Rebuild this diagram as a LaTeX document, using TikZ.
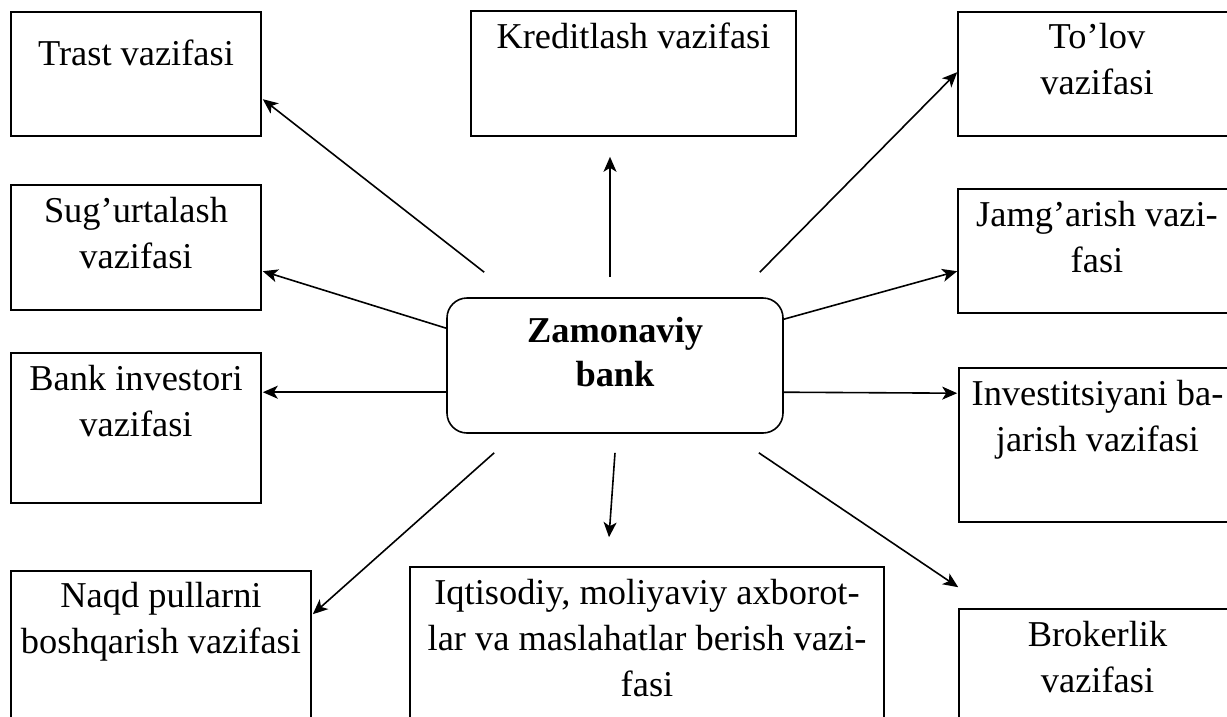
\documentclass[tikz,border=0pt]{standalone}
\usepackage{fontspec}
\setmainfont{Liberation Serif}
\usetikzlibrary{arrows.meta,calc}

\tikzset{
  box/.style={draw, line width=1.6pt, rectangle, inner sep=0pt},
  hub/.style={draw, line width=1.6pt, rectangle, rounded corners=20pt, inner sep=0pt,
    minimum width=336pt, minimum height=135pt},
  % the base anchor of a multi-line label sits on its last line
  label/.style={anchor=base, align=center, inner sep=0pt,
    font=\fontsize{36.4pt}{46pt}\selectfont},
  hublabel/.style={anchor=base, align=center, inner sep=0pt,
    font=\fontsize{36.4pt}{44pt}\selectfont\bfseries},
  link/.style={line width=1.6pt, -{Stealth[length=15pt,width=13pt,inset=4pt]}}
}

\begin{document}
\begin{tikzpicture}[x=1pt,y=-1pt]
  \clip (0,0) rectangle (1227,716);
  \fill[white] (0,0) rectangle (1227,716);

  % central node
  \node[hub] (zb) at (615,365.5) {};
  \node[hublabel] (zbt) at ($(zb.north)+(0,89)$) {Zamonaviy\\bank};

  % left column
  \node[box, minimum width=250pt, minimum height=124pt] (trast) at (136,74) {};
  \node[label] (trastt) at ($(trast.north)+(0,54)$) {Trast vazifasi};

  \node[box, minimum width=250pt, minimum height=125pt] (sug) at (136,247.5) {};
  \node[label] (sugt) at ($(sug.north)+(0,84)$) {Sug’urtalash\\vazifasi};

  \node[box, minimum width=250pt, minimum height=150pt] (bank) at (136,428) {};
  \node[label] (bankt) at ($(bank.north)+(0,84)$) {Bank investori\\vazifasi};

  \node[box, minimum width=300pt, minimum height=189pt] (naqd) at (161,665.5) {};
  \node[label] (naqdt) at ($(naqd.north)+(0,83)$) {Naqd pullarni\\boshqarish vazifasi};

  % middle column
  \node[box, minimum width=325pt, minimum height=125pt] (kred) at (633.5,73.5) {};
  \node[label] (kredt) at ($(kred.north)+(0,38)$) {Kreditlash vazifasi};

  \node[box, minimum width=474pt, minimum height=193pt] (iqt) at (647,663.5) {};
  \node[label] (iqtt) at ($(iqt.north)+(0,130)$) {Iqtisodiy, moliyaviy axborot-\\lar va maslahatlar berish vazi-\\fasi};

  % right column
  \node[box, minimum width=278pt, minimum height=124pt] (tolov) at (1097,74) {};
  \node[label] (tolovt) at ($(tolov.north)+(0,83)$) {To’lov\\vazifasi};

  \node[box, minimum width=278pt, minimum height=124pt] (jamg) at (1097,251) {};
  \node[label] (jamgt) at ($(jamg.north)+(0,84)$) {Jamg’arish vazi-\\fasi};

  \node[box, minimum width=277pt, minimum height=154pt] (invest) at (1097.5,445) {};
  \node[label] (investt) at ($(invest.north)+(0,84)$) {Investitsiyani ba-\\jarish vazifasi};

  \node[box, minimum width=277pt, minimum height=151pt] (brok) at (1097.5,684.5) {};
  \node[label] (brokt) at ($(brok.north)+(0,84)$) {Brokerlik\\vazifasi};

  % connectors from the central node
  \draw[link] ($(zb.north west)+(38,-25)$) -- ($(trast.north east)+(1,88)$);
  \draw[link] ($(zb.north west)+(0,31)$)   -- ($(sug.north east)+(1,87)$);
  \draw[link] ($(zb.north west)+(0,95)$)   -- ($(bank.north east)+(1,40)$);
  \draw[link] ($(zb.south west)+(48,19)$)  -- ($(naqd.north east)+(1,44)$);
  \draw[link] ($(zb.south)+(0,19)$)        -- ($(iqt.north)+(-38,-29)$);
  \draw[link] ($(zb.south east)+(-25,19)$) -- ($(brok.north west)+(0,-21)$);
  \draw[link] ($(zb.north east)+(0,95)$)   -- ($(invest.north west)+(-1,26)$);
  \draw[link] ($(zb.north east)+(0,22)$)   -- ($(jamg.north west)+(0,83)$);
  \draw[link] ($(zb.north east)+(-24,-25)$) -- ($(tolov.north west)+(0,61)$);
  \draw[link] ($(zb.north)+(-5,-20)$)      -- ($(kred.south)+(-23.5,20)$);
\end{tikzpicture}
\end{document}
